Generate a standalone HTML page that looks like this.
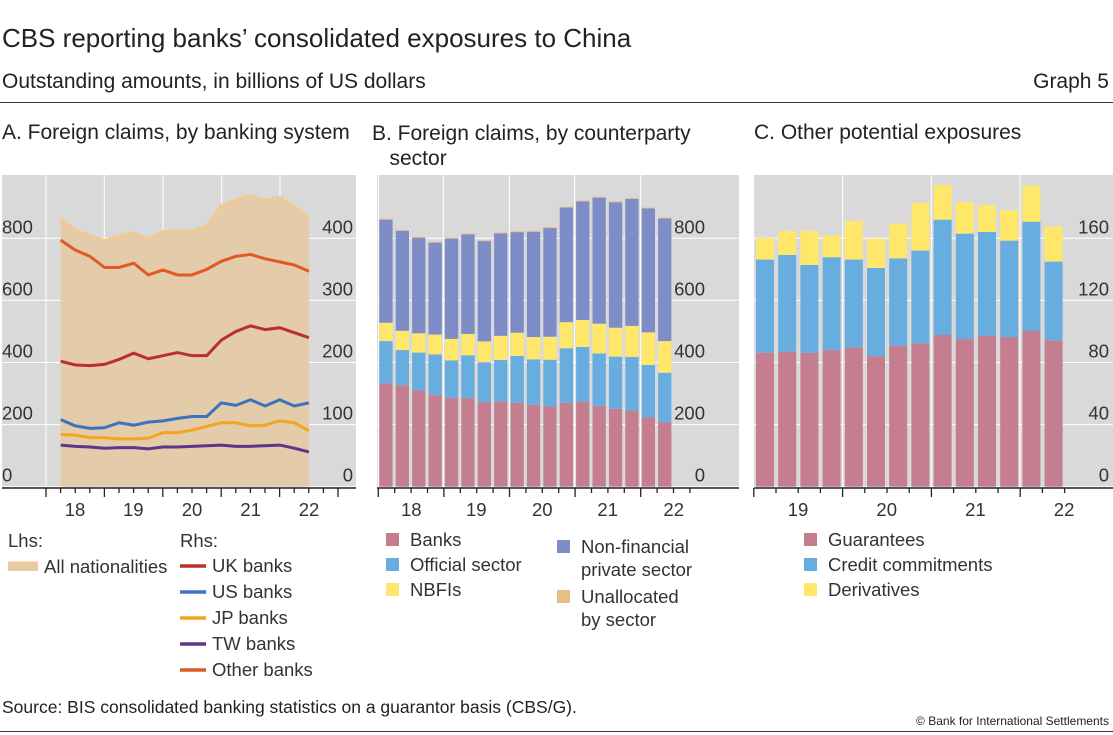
<!DOCTYPE html>
<html><head><meta charset="utf-8"><style>
body{margin:0;background:#fff;font-family:"Liberation Sans","DejaVu Sans",sans-serif;color:#222}
#wrap{position:relative;width:1113px;height:735px;overflow:hidden}
.t{position:absolute;white-space:nowrap}
</style></head><body><div id="wrap">
<div class="t" style="left:2px;top:23px;font-size:26px">CBS reporting banks’ consolidated exposures to China</div>
<div class="t" style="left:2px;top:70px;font-size:21px">Outstanding amounts, in billions of US dollars</div>
<div class="t" style="right:4px;top:70px;font-size:21px">Graph 5</div>
<div style="position:absolute;left:0;top:102px;width:1113px;height:1px;background:#333"></div>
<div class="t" style="left:2px;top:121px;font-size:21px">A. Foreign claims, by banking system</div>
<div class="t" style="left:372px;top:121px;font-size:21px;line-height:25px">B. Foreign claims, by counterparty<br>&nbsp;&nbsp;&nbsp;sector</div>
<div class="t" style="left:754px;top:121px;font-size:21px">C. Other potential exposures</div>
<svg id="svg" width="1113" height="735" style="position:absolute;left:0;top:0"></svg>
<div class="t" style="left:2px;top:697px;font-size:17.5px">Source: BIS consolidated banking statistics on a guarantor basis (CBS/G).</div>
<div class="t" style="right:4px;top:714px;font-size:12px">© Bank for International Settlements</div>
<div style="position:absolute;left:0;top:731px;width:1113px;height:1px;background:#333"></div>
</div>
<script>
// Panel A (quarters Q1 2018 .. Q2 2022)
const allNat=[861,827,808,793,806,818,797,822,823,825,838,904,924,937,922,932,902,870];
const otherBanks=[397,381,371,353,353,360,341,349,341,341,350,363,371,374,367,362,357,347];
const ukBanks=[202,196,195,197,205,215,206,211,216,211,211,236,250,259,253,256,248,240];
const usBanks=[108,98,94,95,103,99,104,106,110,113,113,135,131,140,130,140,130,135];
const jpBanks=[84,83,79,79,77,77,78,87,87,91,97,103,103,98,99,106,103,90];
const twBanks=[67,65,64,62,63,63,61,64,64,65,66,67,65,65,66,67,62,56];
const aLeftTicks=[0,200,400,600,800];
const aRightTicks=[0,100,200,300,400];
const yearLabels=["18","19","20","21","22"];
// Panel B
const bBanks=[333,327,310,295,286,285,273,274,270,264,259,270,274,261,251,245,223,208];
const bOfficial=[136,113,122,131,121,138,128,134,151,146,150,176,176,168,168,173,169,159];
const bNbfi=[59,62,62,64,69,69,67,78,75,72,74,84,87,96,93,100,105,102];
const bNfp=[332,322,308,296,323,321,323,330,324,339,350,369,382,406,404,409,399,395];
const bUnalloc=[3,3,3,3,3,3,3,3,3,3,3,3,3,3,3,3,3,3];
const bTicks=[0,200,400,600,800];
// Panel C (Q1 2019 .. Q2 2022)
const cGuar=[86.3,87,86.3,88,89.7,84.1,90.8,92.4,97.7,95.1,97.3,96.4,100.3,94.3];
const cCredit=[60,62.3,56.5,59.8,56.6,56.8,56.3,59.7,74.3,67.9,66.8,62.1,70.4,50.7];
const cDeriv=[13.9,15.4,21.9,14.1,24.9,18.9,22.4,30.7,22.4,20.4,17.2,19.5,23.2,22.5];
const cTicks=[0,40,80,120,160];
const cYearLabels=["19","20","21","22"];

const NS="http://www.w3.org/2000/svg";
const svg=document.getElementById('svg');
function mk(tag,attrs,name,parent){const e=document.createElementNS(NS,tag);for(const k in attrs)e.setAttribute(k,attrs[k]);


(parent||svg).appendChild(e);return e;}
function txt(x,y,s,anchor,size,name){const e=mk('text',{x:x,y:y,'text-anchor':anchor,'font-size':size,fill:'#333','font-family':'Liberation Sans, sans-serif'},name);e.textContent=s;return e;}
const Y0=486.7, PX=(486.7-238.3)/800;
const yL=v=>Y0-v*PX, yR=v=>Y0-v*PX*2, yC=v=>Y0-v*(486.7-238.3)/160;
const TS=18.5, LS=18.5;

// ---- Panel A
mk('rect',{x:2,y:175,width:354,height:313,fill:'#d9d9d9'},'panel-a-bg');
aLeftTicks.forEach(v=>{mk('line',{x1:2,x2:356,y1:yL(v),y2:yL(v),stroke:'#fff','stroke-width':1},'a-gridline');});
const aYear=[46,104.3,163,221.7,280];
aYear.forEach(x=>mk('line',{x1:x,x2:x,y1:175,y2:488,stroke:'#fff','stroke-width':1},'a-year-gridline'));
const xA=i=>60.7+i*14.6;
let d='M'+xA(0)+','+Y0;allNat.forEach((v,i)=>d+=' L'+xA(i)+','+yL(v));d+=' L'+xA(allNat.length-1)+','+Y0+'Z';
mk('path',{d:d,fill:'#e4cba9'},'all-nationalities-area');
function line(arr,f,col,name){mk('polyline',{points:arr.map((v,i)=>xA(i)+','+f(v)).join(' '),fill:'none',stroke:col,'stroke-width':3,'stroke-linejoin':'round'},name);}
line(allNat,yL,'#f1c995','all-nationalities-line');
line(otherBanks,yR,'#e05a24','other-banks-line');
line(ukBanks,yR,'#b9302e','uk-banks-line');
line(usBanks,yR,'#3a73bf','us-banks-line');
line(jpBanks,yR,'#f4a51f','jp-banks-line');
line(twBanks,yR,'#5b368b','tw-banks-line');
aLeftTicks.forEach(v=>txt(2,yL(v)-5,String(v),'start',TS,'a-left-tick-label'));
aRightTicks.forEach(v=>txt(353,yR(v)-5,String(v),'end',TS,'a-right-tick-label'));
mk('line',{x1:2,x2:356,y1:488,y2:488,stroke:'#222','stroke-width':1.5},'a-x-axis');
for(let i=0;i<21;i++){const x=46+i*14.6;mk('line',{x1:x,x2:x,y1:488,y2:i%4==0?497:493,stroke:'#222','stroke-width':1.3},'a-x-tick');}
yearLabels.forEach((s,i)=>txt(aYear[i]+29,516,s,'middle',TS,'a-year-label'));

// ---- Panel B
mk('rect',{x:377,y:175,width:362,height:313,fill:'#d9d9d9'},'panel-b-bg');
bTicks.forEach(v=>mk('line',{x1:377,x2:739,y1:yL(v),y2:yL(v),stroke:'#fff','stroke-width':1},'b-gridline'));
const bYear=[378.3,443.3,509.3,574.7,640.7];
bYear.forEach(x=>mk('line',{x1:x,x2:x,y1:175,y2:488,stroke:'#fff','stroke-width':1},'b-year-gridline'));
const bSeries=[[bBanks,'#c47e8f','bar-banks'],[bOfficial,'#68ade0','bar-official-sector'],[bNbfi,'#ffe76c','bar-nbfis'],[bNfp,'#7f8dc7','bar-non-financial'],[bUnalloc,'#e6bf86','bar-unallocated']];
for(let i=0;i<bBanks.length;i++){let base=0;const x=379.3+i*16.4;
 bSeries.forEach(([arr,col,nm])=>{const top=base+arr[i];mk('rect',{x:x,y:yL(top),width:13.3,height:yL(base)-yL(top),fill:col},nm);base=top;});}
bTicks.forEach(v=>txt(705,yL(v)-5,String(v),'end',TS,'b-tick-label'));
mk('line',{x1:377,x2:739,y1:488,y2:488,stroke:'#222','stroke-width':1.5},'b-x-axis');
for(let i=0;i<20;i++){const x=378.3+i*16.4;mk('line',{x1:x,x2:x,y1:488,y2:i%4==0?497:493,stroke:'#222','stroke-width':1.3},'b-x-tick');}
yearLabels.forEach((s,i)=>txt(bYear[i]+33,516,s,'middle',TS,'b-year-label'));

// ---- Panel C
mk('rect',{x:754,y:175,width:359,height:313,fill:'#d9d9d9'},'panel-c-bg');
cTicks.forEach(v=>mk('line',{x1:754,x2:1113,y1:yC(v),y2:yC(v),stroke:'#fff','stroke-width':1},'c-gridline'));
const cYear=[842.7,931.3,1020];
cYear.forEach(x=>mk('line',{x1:x,x2:x,y1:175,y2:488,stroke:'#fff','stroke-width':1},'c-year-gridline'));
const cSeries=[[cGuar,'#c47e8f','bar-guarantees'],[cCredit,'#68ade0','bar-credit-commitments'],[cDeriv,'#ffe76c','bar-derivatives']];
for(let i=0;i<cGuar.length;i++){let base=0;const x=756+i*22.2;
 cSeries.forEach(([arr,col,nm])=>{const top=base+arr[i];mk('rect',{x:x,y:yC(top),width:18,height:yC(base)-yC(top),fill:col},nm);base=top;});}
cTicks.forEach(v=>txt(1109,yC(v)-5,String(v),'end',TS,'c-tick-label'));
mk('line',{x1:754,x2:1113,y1:488,y2:488,stroke:'#222','stroke-width':1.5},'c-x-axis');
for(let i=0;i<15;i++){const x=753.8+i*22.2;mk('line',{x1:x,x2:x,y1:488,y2:(i%4==0)?497:493,stroke:'#222','stroke-width':1.3},'c-x-tick');}
cYearLabels.forEach((s,i)=>txt(798+i*88.7,516,s,'middle',TS,'c-year-label'));

// ---- Legends
function legLine(x,y,col,label,w){mk('line',{x1:x,x2:x+26,y1:y,y2:y,stroke:col,'stroke-width':w||3.5},'legend-swatch');txt(x+32,y+6,label,'start',LS,'legend-entry');}
txt(8,547,'Lhs:','start',LS,'legend-lhs-label');
mk('rect',{x:8,y:563,width:30,height:8,fill:'#e4cba9'},'legend-swatch');
mk('line',{x1:8,x2:38,y1:563,y2:563,stroke:'#f1c995','stroke-width':3},'legend-swatch');
txt(44,573,'All nationalities','start',LS,'legend-entry');
txt(180,547,'Rhs:','start',LS,'legend-rhs-label');
legLine(180,566,'#b9302e','UK banks');
legLine(180,592,'#3a73bf','US banks');
legLine(180,618,'#f4a51f','JP banks');
legLine(180,644,'#5b368b','TW banks');
legLine(180,670,'#e05a24','Other banks');
function legBox(x,y,col,lines){mk('rect',{x:x,y:y-7,width:13,height:13,fill:col},'legend-swatch');lines.forEach((l,k)=>txt(x+24,y+6+k*23,l,'start',LS,'legend-entry'));}
legBox(386,540,'#c47e8f',['Banks']);
legBox(386,565,'#68ade0',['Official sector']);
legBox(386,590,'#ffe76c',['NBFIs']);
legBox(557,547,'#7f8dc7',['Non-financial','private sector']);
legBox(557,597,'#e6bf86',['Unallocated','by sector']);
legBox(804,540,'#c47e8f',['Guarantees']);
legBox(804,565,'#68ade0',['Credit commitments']);
legBox(804,590,'#ffe76c',['Derivatives']);
</script></body></html>
